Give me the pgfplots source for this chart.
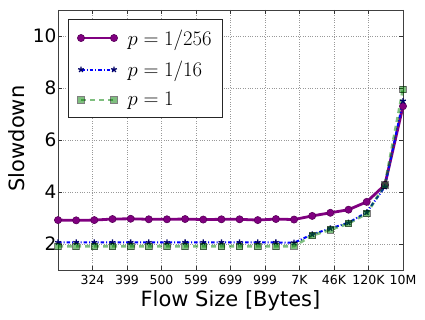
\documentclass[border=0pt]{standalone}
\usepackage{fontspec}
\setmainfont{DejaVu Sans}
\usepackage{pgfplots}
\pgfplotsset{compat=1.18}
\definecolor{mplpurple}{rgb}{0.5,0,0.5}
\definecolor{mplgreen}{rgb}{0,0.5,0}
\definecolor{mplblue}{rgb}{0,0,1}

\pgfplotstableread{
i  a     b     c
0  2.92  2.06  1.91
1  2.91  2.06  1.91
2  2.92  2.06  1.91
3  2.96  2.06  1.91
4  2.97  2.06  1.91
5  2.95  2.06  1.91
6  2.95  2.06  1.91
7  2.96  2.06  1.91
8  2.94  2.06  1.91
9  2.95  2.06  1.91
10 2.95  2.06  1.91
11 2.92  2.06  1.91
12 2.96  2.06  1.91
13 2.94  2.05  1.92
14 3.08  2.37  2.33
15 3.20  2.60  2.55
16 3.32  2.82  2.79
17 3.62  3.22  3.17
18 4.27  4.20  4.27
19 7.30  7.50  7.95
}\data

\begin{document}
\begin{tikzpicture}
\begin{axis}[
  at={(0pt,0pt)}, anchor=south west,
  scale only axis, width=345pt, height=260pt,
  xmin=0, xmax=19, ymin=1, ymax=11,
  xtick={0,1.9,3.8,5.7,7.6,9.5,11.4,13.3,15.2,17.1,19},
  xticklabels={,324,399,500,599,699,999,7K,46K,120K,10M},
  ytick={2,4,6,8,10},
  grid=major,
  major grid style={dotted, black!40, line width=0.7pt},
  tick align=inside, major tick length=4pt,
  tick style={black!80, line width=0.6pt},
  axis line style={line width=0.8pt, black!75},
  /pgf/number format/assume math mode=true,
  xticklabel style={font=\fontsize{12.5}{14}\selectfont, inner sep=0pt, yshift=-5.5pt},
  yticklabel style={font=\fontsize{18.5}{21}\selectfont, inner sep=1.5pt},
  xlabel={Flow Size [Bytes]},
  xlabel style={font=\fontsize{21}{25}\selectfont, at={(axis description cs:0.5,0)}, anchor=base, yshift=-36pt},
  legend style={at={(rel axis cs:0.029,0.965)}, anchor=north west,
    font=\fontsize{21}{24}\selectfont, draw=black!85, line width=0.8pt,
    inner xsep=9pt, inner ysep=8pt, row sep=10.5pt, column sep=8pt, cells={anchor=west}},
  legend image code/.code={%
    \draw[#1, mark repeat=2, mark phase=1] plot coordinates {(0pt,0pt) (16.5pt,0pt) (33pt,0pt)};},
  clip=false,
]
\addplot[mplpurple, line width=2.8pt, mark=*, mark size=3.6pt,
  mark options={solid, fill=mplpurple, draw=mplpurple!70!black, line width=0.6pt}]
  table[x=i, y=a] {\data};
\addlegendentry{$p=1/256$}
\addplot[mplblue, line width=2pt, dash pattern=on 3.5pt off 2pt on 1pt off 2pt,
  mark=star, mark size=3pt,
  mark options={solid, draw=black!60!blue, line width=1.3pt}]
  table[x=i, y=b] {\data};
\addlegendentry{$p=1/16$}
\addplot[mplgreen, opacity=0.5, line width=2.8pt, dash pattern=on 5pt off 4pt,
  mark=square*, mark size=3.3pt,
  mark options={solid, fill=mplgreen, draw=black, line width=0.8pt}]
  table[x=i, y=c] {\data};
\addlegendentry{$p=1$}
\end{axis}
\node[rotate=90, anchor=base, font=\fontsize{21}{25}\selectfont] at (-33pt,131.5pt) {Slowdown};
\pgfresetboundingbox
\useasboundingbox (-58pt,-49pt) rectangle (367pt,270pt);
\end{tikzpicture}
\end{document}
